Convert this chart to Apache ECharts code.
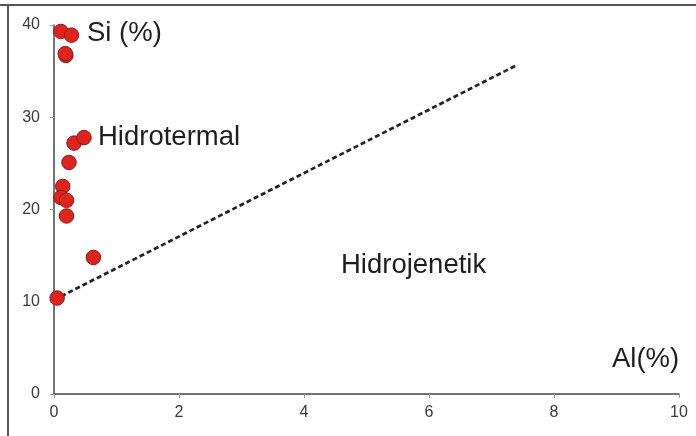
<!DOCTYPE html>
<html>
<head>
<meta charset="utf-8">
<script src="https://cdn.jsdelivr.net/npm/echarts@6/dist/echarts.min.js"></script>
<style>
html,body{margin:0;padding:0;background:#fff;}
#chart{width:696px;height:436px;}
</style>
</head>
<body>
<div id="chart"></div>
<script>
// Data (Al %, Si %)
var alValues = [0.11, 0.28, 0.19, 0.18, 0.32, 0.48, 0.24, 0.14, 0.11, 0.20, 0.20, 0.63, 0.05];
var siValues = [39.3, 38.9, 36.7, 36.9, 27.2, 27.8, 25.1, 22.5, 21.3, 21.0, 19.3, 14.8, 10.4];
var boundaryAl = [0, 7.39];
var boundarySi = [10.2, 35.6];
var xTicks = [0, 2, 4, 6, 8, 10];
var yTicks = [0, 10, 20, 30, 40];
var labelTexts = ['Si (%)', 'Hidrotermal', 'Hidrojenetik', 'Al(%)'];

var points = alValues.map(function (a, i) { return [a, siValues[i]]; });
var boundary = boundaryAl.map(function (a, i) { return [a, boundarySi[i]]; });

var chart = echarts.init(document.getElementById('chart'), null, {renderer: 'canvas'});
var font = 'Liberation Sans, Arial, sans-serif';
var bigText = {fontSize: 27.5, fontFamily: font, fill: '#1e1e1e'};

chart.setOption({
  animation: false,
  backgroundColor: '#ffffff',
  grid: {left: 54, right: 17, top: 25, bottom: 42},
  xAxis: {
    type: 'value', min: xTicks[0], max: xTicks[xTicks.length - 1], interval: 2,
    axisLine: {show: true, onZero: false, lineStyle: {color: '#444', width: 1.5}},
    axisTick: {show: true, length: 4, lineStyle: {color: '#999'}},
    axisLabel: {fontSize: 16, fontFamily: font, color: '#3a3a3a', margin: 11},
    splitLine: {show: false}
  },
  yAxis: {
    type: 'value', min: yTicks[0], max: yTicks[yTicks.length - 1], interval: 10,
    axisLine: {show: true, onZero: false, lineStyle: {color: '#444', width: 1.5}},
    axisTick: {show: true, length: 4, lineStyle: {color: '#999'}},
    axisLabel: {fontSize: 16, fontFamily: font, color: '#3a3a3a', margin: 14},
    splitLine: {show: false}
  },
  series: [
    {
      type: 'line', data: boundary, symbol: 'none', z: 1,
      lineStyle: {color: '#222', width: 2.7, type: [5, 3]}
    },
    {
      type: 'scatter', data: points, symbolSize: 14.5, z: 3,
      itemStyle: {color: '#e0231d', borderColor: '#8a1c16', borderWidth: 1, opacity: 1}
    }
  ],
  graphic: [
    {type: 'line', shape: {x1: 0, y1: 5, x2: 696, y2: 5}, style: {stroke: '#555', lineWidth: 2}},
    {type: 'line', shape: {x1: 8, y1: 5, x2: 8, y2: 436}, style: {stroke: '#555', lineWidth: 2}},
    {type: 'text', left: 87, top: 19, style: Object.assign({text: labelTexts[0]}, bigText)},
    {type: 'text', left: 98, top: 123, style: Object.assign({text: labelTexts[1]}, bigText)},
    {type: 'text', left: 341, top: 251, style: Object.assign({text: labelTexts[2]}, bigText)},
    {type: 'text', left: 612, top: 345, style: Object.assign({text: labelTexts[3]}, bigText)}
  ]
});
</script>
</body>
</html>
